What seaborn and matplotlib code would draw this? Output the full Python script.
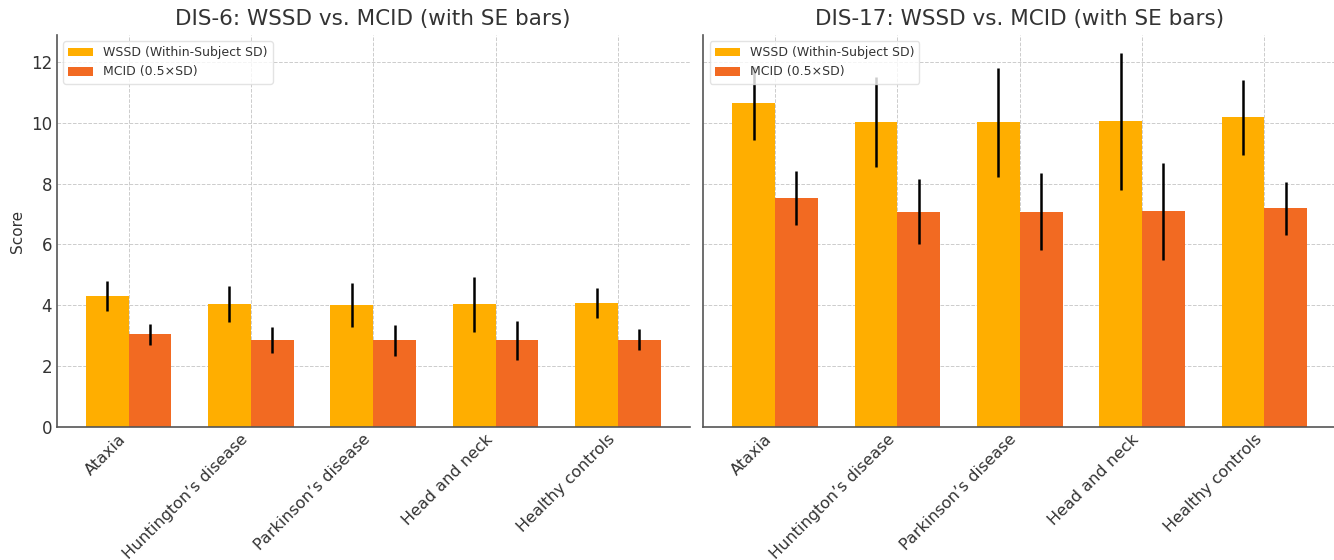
import numpy as np
import pandas as pd
import matplotlib
matplotlib.use("Agg")
import matplotlib.pyplot as plt
import seaborn as sns

# Groups and series
groups = ["Ataxia", "Huntington\u2019s disease", "Parkinson\u2019s disease",
          "Head and neck", "Healthy controls"]
series = ["WSSD (Within-Subject SD)", "MCID (0.5\u00d7SD)"]

# DIS-6 values and standard errors
dis6_wssd = [4.30, 4.04, 4.02, 4.03, 4.07]
dis6_wssd_se = [0.50, 0.60, 0.72, 0.90, 0.49]
dis6_mcid = [3.04, 2.86, 2.85, 2.85, 2.87]
dis6_mcid_se = [0.35, 0.42, 0.51, 0.64, 0.34]

# DIS-17 values and standard errors
dis17_wssd = [10.63, 10.01, 10.01, 10.04, 10.18]
dis17_wssd_se = [1.20, 1.48, 1.80, 2.24, 1.23]
dis17_mcid = [7.52, 7.08, 7.08, 7.09, 7.19]
dis17_mcid_se = [0.88, 1.06, 1.27, 1.59, 0.87]

colors = ["#FFAE00", "#F26A22"]

sns.set_style("white")
plt.rcParams.update({
    "font.family": ["DejaVu Sans"],
    "axes.edgecolor": "#555555",
    "xtick.color": "#333333",
    "ytick.color": "#333333",
    "text.color": "#333333",
    "axes.labelcolor": "#333333",
})


def long_frame(wssd, mcid):
    return pd.DataFrame({
        "group": groups * 2,
        "series": [series[0]] * len(groups) + [series[1]] * len(groups),
        "value": list(wssd) + list(mcid),
    })


def draw_panel(ax, wssd, wssd_se, mcid, mcid_se, title):
    df = long_frame(wssd, mcid)
    sns.barplot(data=df, x="group", y="value", hue="series",
                hue_order=series, order=groups, palette=colors,
                width=0.7, errorbar=None, saturation=1.0,
                edgecolor="none", ax=ax, zorder=2)
    for container, se in zip(ax.containers, [wssd_se, mcid_se]):
        xs = [p.get_x() + p.get_width() / 2 for p in container.patches]
        ys = [p.get_height() for p in container.patches]
        ax.errorbar(xs, ys, yerr=se, fmt="none", ecolor="black",
                    elinewidth=1.8, capsize=0, zorder=3)
    ax.set_title(title, fontsize=15.5, color="#333333", pad=7)
    ax.set_xlabel("")
    ax.grid(True, linestyle="--", linewidth=0.7, color="#cccccc", zorder=0)
    ax.set_axisbelow(True)
    for side in ["top", "right"]:
        ax.spines[side].set_visible(False)
    ax.spines["left"].set_linewidth(1.2)
    ax.spines["bottom"].set_linewidth(1.2)
    ax.tick_params(axis="both", direction="in", length=4, width=1,
                   colors="#333333")
    ax.tick_params(axis="y", labelsize=12)
    ax.set_xticks(range(len(groups)))
    ax.set_xticklabels(groups, rotation=45, ha="right", fontsize=11.5)
    ax.set_xlim(-0.585, 4.585)
    ax.legend(loc="upper left", fontsize=9, frameon=True,
              framealpha=0.8, edgecolor="#dddddd", fancybox=True)


fig, (ax1, ax2) = plt.subplots(1, 2, figsize=(13.34, 5.6), dpi=100,
                               sharey=True)
fig.subplots_adjust(left=0.0427, right=1.0015, bottom=0.2375, top=0.9375,
                    wspace=0.022)

draw_panel(ax1, dis6_wssd, dis6_wssd_se, dis6_mcid, dis6_mcid_se,
           "DIS-6: WSSD vs. MCID (with SE bars)")
draw_panel(ax2, dis17_wssd, dis17_wssd_se, dis17_mcid, dis17_mcid_se,
           "DIS-17: WSSD vs. MCID (with SE bars)")

ax1.set_ylim(0, 12.88)
ax1.set_yticks([0, 2, 4, 6, 8, 10, 12])
ax1.set_ylabel("Score", fontsize=11)
ax2.set_ylabel("")
ax2.tick_params(axis="y", labelleft=False)

fig.savefig("out.png", dpi=100)
